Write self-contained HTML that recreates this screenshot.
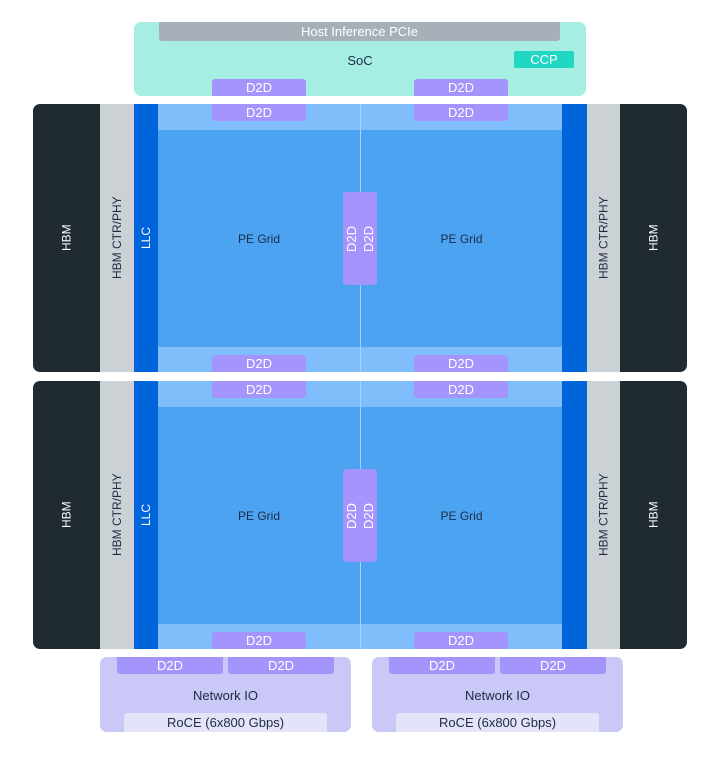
<!DOCTYPE html>
<html><head><meta charset="utf-8"><style>
body{margin:0;width:720px;height:763px;background:#fff;position:relative;overflow:hidden;font-family:"Liberation Sans",sans-serif;}
div{position:absolute;box-sizing:border-box;}
.c{display:flex;align-items:center;justify-content:center;}
.d{background:#a395fb;color:#fff;font-size:13px;}
.v{writing-mode:vertical-rl;transform:rotate(180deg);}
.t{font-size:12px;color:#1d2b44;}
</style></head><body>
<!-- SoC -->
<div style="left:134px;top:22px;width:452px;height:74px;background:#a6eee2;border-radius:7px"></div>
<div class="c" style="left:159px;top:22px;width:401px;height:19px;background:#a7b0b8;color:#fff;font-size:13px;border-radius:0 0 3px 3px">Host Inference PCIe</div>
<div class="c t" style="left:134px;top:51px;width:452px;height:18px;font-size:13px">SoC</div>
<div class="c" style="left:514px;top:51px;width:60px;height:17px;background:#22d6c4;color:#fff;font-size:13px;border-radius:2px">CCP</div>
<div class="c d" style="left:212px;top:79px;width:94px;height:17px;border-radius:3px 3px 0 0">D2D</div>
<div class="c d" style="left:414px;top:79px;width:94px;height:17px;border-radius:3px 3px 0 0">D2D</div>

<!-- chips -->
<script>
function chip(y){
 let h='';
 h+=`<div style="left:33px;top:${y}px;width:67px;height:268px;background:#1f2a31;border-radius:7px 0 0 7px"></div>`;
 h+=`<div class="c v" style="left:33px;top:${y}px;width:67px;height:268px;color:#fff;font-size:12px">HBM</div>`;
 h+=`<div style="left:620px;top:${y}px;width:67px;height:268px;background:#1f2a31;border-radius:0 7px 7px 0"></div>`;
 h+=`<div class="c v" style="left:620px;top:${y}px;width:67px;height:268px;color:#fff;font-size:12px">HBM</div>`;
 h+=`<div class="c v t" style="left:100px;top:${y}px;width:34px;height:268px;background:#ccd1d6">HBM CTR/PHY</div>`;
 h+=`<div class="c v t" style="left:587px;top:${y}px;width:33px;height:268px;background:#ccd1d6">HBM CTR/PHY</div>`;
 h+=`<div class="c v" style="left:134px;top:${y}px;width:24px;height:268px;background:#0064db;color:#fff;font-size:12px">LLC</div>`;
 h+=`<div style="left:562px;top:${y}px;width:25px;height:268px;background:#0064db"></div>`;
 h+=`<div style="left:158px;top:${y}px;width:404px;height:268px;background:#4ba3f1"></div>`;
 h+=`<div style="left:158px;top:${y}px;width:404px;height:26px;background:#80bdfb"></div>`;
 h+=`<div style="left:158px;top:${y+243}px;width:404px;height:25px;background:#80bdfb"></div>`;
 h+=`<div style="left:360px;top:${y}px;width:1px;height:268px;background:#a9d2fb"></div>`;
 h+=`<div class="c t" style="left:158px;top:${y+126}px;width:202px;height:18px">PE Grid</div>`;
 h+=`<div class="c t" style="left:361px;top:${y+126}px;width:201px;height:18px">PE Grid</div>`;
 for(const x of [212,414]){
  h+=`<div class="c d" style="left:${x}px;top:${y}px;width:94px;height:17px;border-radius:0 0 3px 3px">D2D</div>`;
  h+=`<div class="c d" style="left:${x}px;top:${y+251}px;width:94px;height:17px;border-radius:3px 3px 0 0">D2D</div>`;
 }
 h+=`<div class="d" style="left:343px;top:${y+88}px;width:34px;height:93px;border-radius:3px"></div>`;
 h+=`<div class="c d v" style="left:343px;top:${y+88}px;width:17px;height:93px;background:none">D2D</div>`;
 h+=`<div class="c d v" style="left:360px;top:${y+88}px;width:17px;height:93px;background:none">D2D</div>`;
 document.write(h);
}
chip(104);chip(381);
function net(x){
 document.write(`<div style="left:${x}px;top:657px;width:251px;height:75px;background:#c9c8f7;border-radius:7px"></div>
 <div class="c d" style="left:${x+17}px;top:657px;width:106px;height:17px;border-radius:0 0 3px 3px">D2D</div>
 <div class="c d" style="left:${x+128}px;top:657px;width:106px;height:17px;border-radius:0 0 3px 3px">D2D</div>
 <div class="c t" style="left:${x}px;top:686px;width:251px;height:18px;font-size:13px">Network IO</div>
 <div class="c t" style="left:${x+24}px;top:713px;width:203px;height:19px;background:#e3e3fa;font-size:13px;border-radius:3px 3px 0 0">RoCE (6x800 Gbps)</div>`);
}
net(100);net(372);
</script>
</body></html>
